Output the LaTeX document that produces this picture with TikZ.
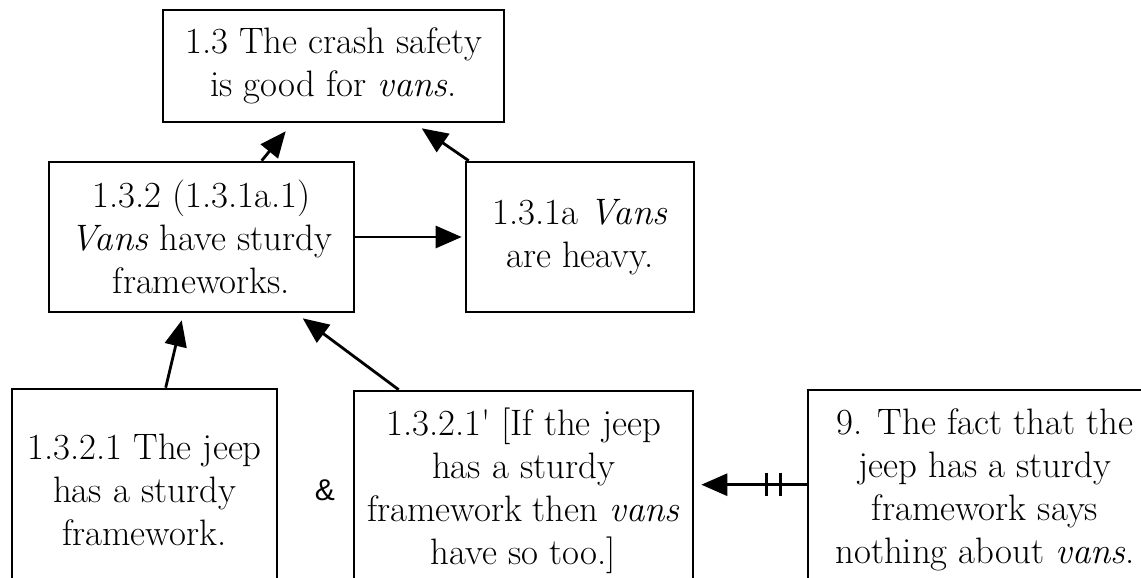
\documentclass[tikz,border=0pt]{standalone}
\usepackage{fontspec}
\newfontfamily\ampfont{Liberation Sans}
\usetikzlibrary{arrows.meta,calc}
\tikzset{
  box/.style={draw, line width=1.3pt, align=center, inner sep=0pt, font=\fontsize{18.4}{21.5}\selectfont},
  arr/.style={line width=1.4pt, -{Triangle[length=13pt,width=11pt]}}
}
\begin{document}
\begin{tikzpicture}[x=0.5pt,y=-0.5pt]
\useasboundingbox (0,0) rectangle (1141,578);
\clip (0,0) rectangle (1141,578);
\node[box, minimum width=170.5pt, minimum height=56pt] (A) at (333.5,66)
  {1.3 The crash safety\\ is good for \textit{vans}.};
\node[box, minimum width=152.5pt, minimum height=75pt] (B) at (201.5,237)
  {1.3.2 (1.3.1a.1)\\ \textit{Vans} have sturdy\\ frameworks.};
\node[box, minimum width=114pt, minimum height=75pt] (C) at (580,237)
  {1.3.1a \textit{Vans}\\ are heavy.};
\node[box, minimum width=132.5pt, minimum height=100.5pt] (D) at (144.5,489.5)
  {1.3.2.1 The jeep\\ has a sturdy\\ framework.};
\node[box, minimum width=169.5pt, minimum height=99.5pt] (E) at (523.5,490.5)
  {1.3.2.1\textquotesingle{} [If the jeep\\ has a sturdy\\ framework then \textit{vans}\\ have so too.]};
\node[box, minimum width=177pt, minimum height=100pt] (F) at (985,490)
  {9. The fact that the\\ jeep has a sturdy\\ framework says\\ nothing about \textit{vans}.};
\node[font=\ampfont\fontsize{15}{18}\selectfont, inner sep=0pt] (amp) at (325,490) {\&};
\coordinate (fs) at ($(F.north west)+(0,96)$);
\draw[arr] ($(B.north west)+(214,0)$) -- ($(A.south west)+(124,8)$);
\draw[arr] ($(C.north west)+(4,0)$) -- ($(A.south west)+(260,5)$);
\draw[arr] (B.east) -- ($(C.west)+(-3,0)$);
\draw[arr] ($(D.north west)+(155,0)$) -- ($(B.south west)+(134,7)$);
\draw[arr] ($(E.north west)+(46,0)$) -- ($(B.south west)+(255,5)$);
\draw[arr] (fs) -- ($(E.east |- fs)+(7,0)$);
\draw[line width=1.4pt] ($(fs)+(-26,-12)$) -- ($(fs)+(-26,11)$);
\draw[line width=1.4pt] ($(fs)+(-40,-12)$) -- ($(fs)+(-40,11)$);
\end{tikzpicture}
\end{document}
